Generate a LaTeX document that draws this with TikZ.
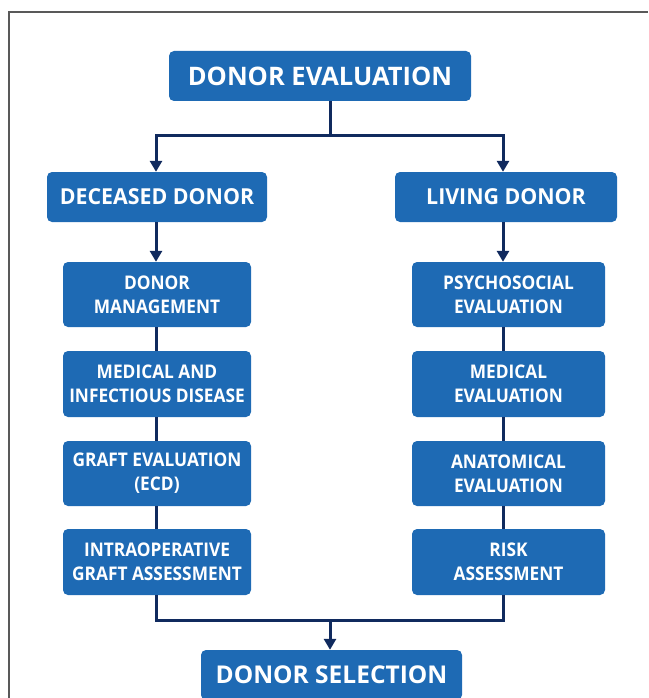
\documentclass[tikz,border=0pt]{standalone}
\usepackage{fontspec}
\setmainfont{Open Sans}[FakeStretch=0.92]
\newfontfamily\midfont{Open Sans}[FakeStretch=0.97]
\newfontfamily\widefont{Open Sans}
\usetikzlibrary{arrows.meta}
\definecolor{boxblue}{RGB}{30,106,180}
\definecolor{linenavy}{RGB}{16,42,94}
\begin{document}
\begin{tikzpicture}[x=1pt,y=1pt,
  bx/.style={draw=none, fill=boxblue, rounded corners=5pt, text=white, align=center, inner sep=0pt},
  bigbox/.style={bx, font=\widefont\bfseries\fontsize{25.5}{28}\selectfont},
  selbox/.style={bx, font=\widefont\bfseries\fontsize{24.5}{28}\selectfont},
  midbox/.style={bx, font=\midfont\bfseries\fontsize{22}{24}\selectfont},
  smallbox/.style={bx, font=\bfseries\fontsize{18.8}{24}\selectfont},
  conn/.style={draw=linenavy, line width=3pt},
  arr/.style={conn, -{Triangle[length=11pt,width=12pt]}}
]
\useasboundingbox (0,0) rectangle (648,-698);
\draw[gray!70!black, line width=1.2pt] (9,-698) -- (9,-12) -- (648,-12);

\node[bigbox, minimum width=302pt, minimum height=50pt] (top) at (320,-76) {DONOR EVALUATION};
\node[midbox, minimum width=220pt, minimum height=50pt] (dec) at (157,-197) {DECEASED DONOR};
\node[midbox, minimum width=222pt, minimum height=50pt] (liv) at (506,-197) {LIVING DONOR};

\node[smallbox, minimum width=188pt, minimum height=65pt] (l1) at (157,-294.5) {DONOR\\MANAGEMENT};
\node[smallbox, minimum width=188pt, minimum height=66pt] (l2) at (157,-384) {MEDICAL AND\\INFECTIOUS DISEASE};
\node[smallbox, minimum width=188pt, minimum height=65pt] (l3) at (157,-473.5) {GRAFT EVALUATION\\(ECD)};
\node[smallbox, minimum width=188pt, minimum height=66pt] (l4) at (157,-562) {INTRAOPERATIVE\\GRAFT ASSESSMENT};

\node[smallbox, minimum width=193pt, minimum height=65pt] (r1) at (508.5,-294.5) {PSYCHOSOCIAL\\EVALUATION};
\node[smallbox, minimum width=193pt, minimum height=66pt] (r2) at (508.5,-384) {MEDICAL\\EVALUATION};
\node[smallbox, minimum width=193pt, minimum height=65pt] (r3) at (508.5,-473.5) {ANATOMICAL\\EVALUATION};
\node[smallbox, minimum width=193pt, minimum height=66pt] (r4) at (508.5,-562) {RISK\\ASSESSMENT};

\node[selbox, minimum width=261pt, minimum height=50pt] (sel) at (331.5,-675) {DONOR SELECTION};

\coordinate (jt) at (330,-135);
\coordinate (jtl) at (156,-135);
\coordinate (jtr) at (503,-135);
\coordinate (jb) at (330,-620);
\coordinate (jbl) at (156,-620);
\coordinate (jbr) at (503,-620);
\coordinate (xl) at (156,0);
\coordinate (xr) at (503,0);

\draw[conn] (top.south -| jt) -- (jt);
\draw[conn, line cap=rect] (jtl) -- (jtr);
\draw[arr] (jtl) -- (dec.north -| jtl);
\draw[arr] (jtr) -- (liv.north -| jtr);
\draw[arr] (dec.south -| xl) -- (l1.north -| xl);
\draw[arr] (liv.south -| xr) -- (r1.north -| xr);
\draw[conn] (l1.south -| xl) -- (l2.north -| xl);
\draw[conn] (l2.south -| xl) -- (l3.north -| xl);
\draw[conn] (l3.south -| xl) -- (l4.north -| xl);
\draw[conn] (r1.south -| xr) -- (r2.north -| xr);
\draw[conn] (r2.south -| xr) -- (r3.north -| xr);
\draw[conn] (r3.south -| xr) -- (r4.north -| xr);
\draw[conn, line join=miter] (l4.south -| xl) -- (jbl) -- (jbr) -- (r4.south -| xr);
\draw[arr] (jb) -- (sel.north -| jb);
\end{tikzpicture}
\end{document}
